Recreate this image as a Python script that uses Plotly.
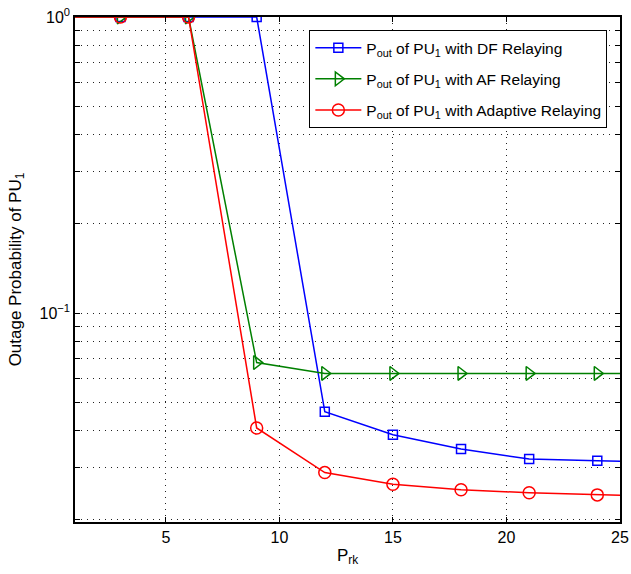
import plotly.graph_objects as go

x_vals = [0, 3, 6, 9, 12, 15, 18, 21, 24, 27]
df_vals = [1, 1, 1, 1, 0.0464, 0.0388, 0.0347, 0.0321, 0.0317, 0.0313]
af_vals = [1, 1, 1, 0.068, 0.0625, 0.0625, 0.0625, 0.0625, 0.0625, 0.0625]
ad_vals = [1, 1, 1, 0.0409, 0.0289, 0.0264, 0.0253, 0.0247, 0.0243, 0.0240]
names = ["P<sub>out</sub> of PU<sub>1</sub> with DF Relaying",
         "P<sub>out</sub> of PU<sub>1</sub> with AF Relaying",
         "P<sub>out</sub> of PU<sub>1</sub> with Adaptive Relaying"]
x_ticks = [5, 10, 15, 20, 25]
y_major = [0.1, 1]
y_major_text = ["10<sup>−1</sup>", "10<sup>0</sup>"]
y_minor = [0.02, 0.03, 0.04, 0.05, 0.06, 0.07, 0.08, 0.09,
           0.2, 0.3, 0.4, 0.5, 0.6, 0.7, 0.8, 0.9]

fig = go.Figure()
series = [(df_vals, "#0000ff", "square-open", 9),
          (af_vals, "#008000", "triangle-right-open", 12),
          (ad_vals, "#ff0000", "circle-open", 12)]
for i, ((vals, col, sym, sz), nm) in enumerate(zip(series, names)):
    fig.add_trace(go.Scatter(x=x_vals, y=vals, mode="lines+markers", name=nm,
                             legendgroup=f"g{i}",
                             line=dict(color=col, width=1.5),
                             marker=dict(symbol=sym, size=sz, color=col,
                                         line=dict(color=col, width=1.5))))

dots = "1px,5px"
yt = y_minor + y_major
ytt = [""] * len(y_minor) + y_major_text
fig.update_layout(
    width=631, height=574,
    margin=dict(l=75, r=11, t=17, b=52),
    plot_bgcolor="white", paper_bgcolor="white",
    font=dict(family="Liberation Sans, Arial, sans-serif", size=16, color="black"),
    showlegend=True,
    legend=dict(x=0.43, y=0.974, xanchor="left", yanchor="top",
                bgcolor="white", bordercolor="black", borderwidth=1,
                font=dict(size=15.5), tracegroupgap=8, itemwidth=46),
    xaxis=dict(range=[1, 25], tickvals=x_ticks, showline=True, linecolor="black",
               linewidth=1.5, mirror="ticks", ticks="inside", ticklen=5,
               tickcolor="black", showgrid=True, gridcolor="#222222",
               griddash=dots, gridwidth=1, zeroline=False, automargin=False,
               ticklabeloverflow="allow",
               title=dict(text="P<sub>rk</sub>", font=dict(size=17), standoff=4)),
    yaxis=dict(type="log", range=[-1.706, 0], tickvals=yt, ticktext=ytt,
               showline=True, linecolor="black", linewidth=1.5, mirror="ticks",
               ticks="inside", ticklen=5, tickcolor="black", showgrid=True,
               gridcolor="#222222", griddash=dots, gridwidth=1, zeroline=False,
               automargin=False, ticklabeloverflow="allow",
               title=dict(text="Outage Probability of PU<sub>1</sub>",
                          font=dict(size=17), standoff=14)),
)
fig.write_html("out.html", post_script="document.body.style.margin='0px';",
               config={"displayModeBar": False})
